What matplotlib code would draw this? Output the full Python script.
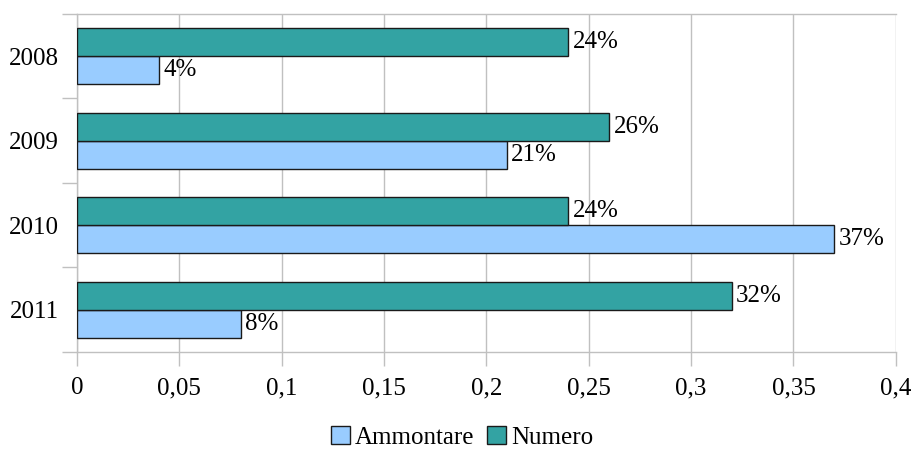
import matplotlib.pyplot as plt
from matplotlib.ticker import FuncFormatter, FixedLocator

plt.rcParams['font.family'] = ['Liberation Serif', 'DejaVu Serif']

anni = ['2008', '2009', '2010', '2011']
numero = [0.24, 0.26, 0.24, 0.32]
ammontare = [0.04, 0.21, 0.37, 0.08]

c_numero = '#33a3a3'
c_ammontare = '#99ccff'
grigio = '#c0c0c0'
fs = 18

fig = plt.figure(figsize=(9.15, 4.5), dpi=100)
ax = fig.add_axes([0.0842, 0.2178, 0.8948, 0.7511])

centri = [i + 0.5 for i in range(len(anni))]
h = 0.33
y_num = [c - h / 2 for c in centri]
y_amm = [c + h / 2 for c in centri]

b1 = ax.barh(y_amm, ammontare, height=h, color=c_ammontare, edgecolor='#1a1a1a',
             linewidth=1, label='Ammontare', zorder=3)
b2 = ax.barh(y_num, numero, height=h, color=c_numero, edgecolor='#1a1a1a',
             linewidth=1, label='Numero', zorder=3)

for y, v in zip(y_num, numero):
    ax.annotate('{:d}%'.format(round(v * 100)), (v, y), xytext=(3, 0),
                textcoords='offset points', va='center', ha='left', fontsize=fs)
for y, v in zip(y_amm, ammontare):
    ax.annotate('{:d}%'.format(round(v * 100)), (v, y), xytext=(3, 0),
                textcoords='offset points', va='center', ha='left', fontsize=fs)

ax.set_xlim(0, 0.4)
ax.set_ylim(len(anni), 0)
ax.set_xticks([i * 0.05 for i in range(9)])
ax.xaxis.set_major_formatter(FuncFormatter(lambda v, p: ('%g' % round(v, 2)).replace('.', ',')))
ax.grid(axis='x', color=grigio, linewidth=1, zorder=0)

# tacche ai confini delle categorie, etichette al centro
ax.yaxis.set_major_locator(FixedLocator(range(len(anni) + 1)))
ax.yaxis.set_major_formatter(FuncFormatter(lambda v, p: ''))
ax.yaxis.set_minor_locator(FixedLocator(centri))
ax.set_yticklabels(anni, minor=True)
ax.tick_params(axis='y', which='major', length=11, color=grigio, width=1)
ax.tick_params(axis='y', which='minor', length=0, pad=13, labelsize=fs)
ax.tick_params(axis='x', length=10, color=grigio, width=1, pad=8, labelsize=fs)

for s in ax.spines.values():
    s.set_color(grigio)
    s.set_linewidth(1)
ax.spines['right'].set_visible(False)

fig.legend(handles=[b1, b2], loc='center', bbox_to_anchor=(0.505, 0.028), ncol=2,
           frameon=False, fontsize=fs, handlelength=0.75, handleheight=0.75,
           handletextpad=0.2, columnspacing=0.5, borderaxespad=0)

fig.savefig('out.png', dpi=100)
